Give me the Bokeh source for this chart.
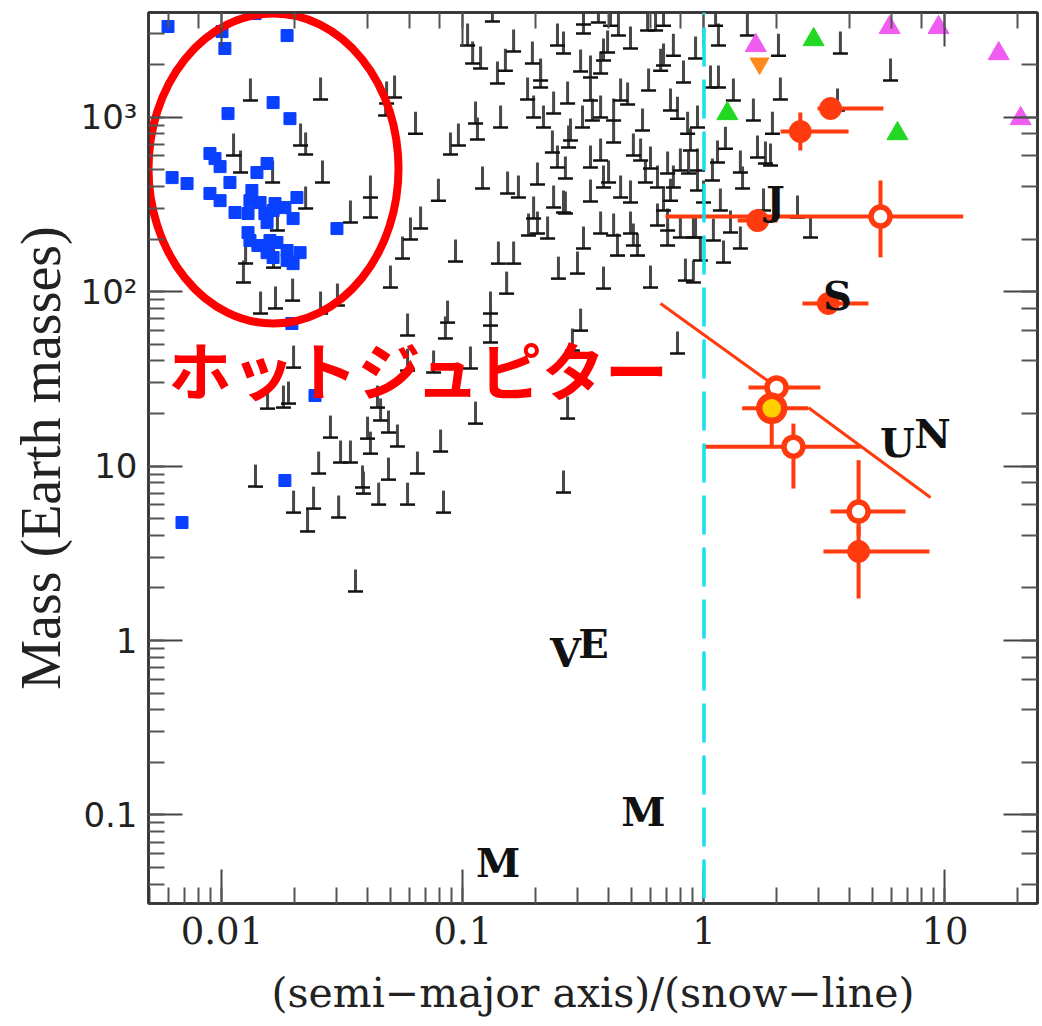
import numpy as np
from bokeh.plotting import figure
from bokeh.models import LogAxis, CustomJSTickFormatter, Span, Label, Range1d, ColumnDataSource
from bokeh.core.properties import value
from bokeh.embed import file_html
from bokeh.resources import INLINE

# ---------------- data ----------------
# radial-velocity planets (minimum masses): log10(a / snow line), log10(M sin i / M_earth)
rv_log_a = [-1.882, -1.591, -1.317, -1.284, -1.197, -1.321, -1.952, -1.923, -1.674, -1.653,
            -1.583, -1.790, -1.384, -1.384, -1.467, -1.653, -1.770, -1.786, -1.911, -1.902,
            -1.176, -1.218, -1.251, -1.301, -1.102, -1.707, -1.778, -1.840, -1.591, -1.521,
            -1.703, -1.811, -1.745, -1.724, -1.230, -1.064, -1.073, -1.122, -1.230, -1.355,
            -1.342, -1.309, -1.272, -1.550, -1.508, -1.467, -1.396, -1.384, -1.599, -1.417,
            -1.413, -1.309, -1.189, -1.093, -1.861, -1.703, -1.620, -1.645, -1.516, -1.350,
            -1.230, -1.081, -1.446, -1.031, -0.853, -0.790, -0.819, -0.604, -0.525, -0.417,
            -0.222, -0.077, -0.044, -0.886, -0.886, -0.512, -0.546, -0.110, -0.969, -0.566,
            -0.948, -0.583, -0.878, -0.981, -0.927, -0.960, -0.790, -0.824, -0.857, -0.608,
            -0.583, -0.500, -0.500, -0.438, -0.388, -0.355, -0.305, -0.234, -0.201, -0.168,
            -0.712, -0.678, -0.678, -0.732, -0.707, -0.666, -0.512, -0.471, -0.417, -0.400,
            -0.566, -0.629, -0.554, -0.562, -0.471, -0.463, -0.429, -0.504, -0.346, -0.317,
            -0.255, -0.230, -0.180, -0.168, -0.127, -0.085, -0.035, -0.110, -0.068, -0.608,
            -0.575, -0.624, -0.583, -0.471, -0.429, -0.417, -0.471, -0.396, -0.346, -0.305,
            -0.293, -0.263, -0.243, -0.193, -0.151, -0.127, -0.098, -0.027, -0.002, -0.139,
            -0.193, -0.151, -0.151, -0.098, -0.035, 0.039, -0.707, -0.691, -0.649, -0.728,
            -0.429, -0.375, -0.359, -0.305, -0.293, -0.276, -0.500, -0.919, -0.815, -0.770,
            -0.691, -1.052, -1.019, -0.948, -0.940, -0.844, -0.886, 0.180, 0.309, 0.566,
            0.774, 0.060, 0.048, 0.027, 0.060, 0.122, 0.205, 0.317, 0.284, 0.554,
            0.056, 0.089, 0.151, 0.222, 0.255, 0.276, 0.160, -0.027, -0.044, 0.110,
            0.151, 0.081, 0.247, 0.388, 0.442, -0.624, -0.375, -0.222, -0.064, -0.168,
            -0.027, -0.139, -0.375, -0.575, -0.429, -0.056, -0.015, 0.035, 0.068]
rv_log_m = [3.095, 3.100, 3.077, 3.112, 2.905, 3.009, 2.779, 2.682, 2.837, 2.785,
            2.625, 2.625, 2.539, 2.424, 2.395, 2.476, 2.350, 2.137, 2.052, 2.160,
            2.361, 2.298, 2.189, 2.023, 2.521, 1.948, 1.903, 1.874, 1.874, 1.920,
            1.564, 1.329, 1.335, 1.358, 1.748, 1.822, 1.731, 1.536, 1.547, 1.335,
            1.261, 1.192, 1.112, 1.163, 1.020, 1.020, 1.157, 1.071, 0.957, 0.877,
            0.842, 0.922, 0.957, 1.083, 0.882, 0.733, 0.756, 0.625, 0.705, 0.779,
            0.779, 0.733, 0.281, 2.172, 2.160, 2.160, 1.988, 2.074, 2.103, 2.017,
            2.023, 2.063, 2.052, 1.805, 1.708, 1.776, 1.662, 1.645, 1.559, 1.272,
            1.243, 0.848, 3.547, 3.410, 3.278, 3.307, 3.375, 3.266, 3.192, 3.410,
            3.364, 3.530, 3.479, 3.542, 3.524, 3.467, 3.393, 3.496, 3.496, 3.524,
            3.307, 3.209, 3.169, 3.100, 2.997, 2.940, 3.261, 3.226, 3.324, 3.370,
            3.077, 2.797, 2.865, 2.825, 3.095, 2.980, 2.997, 2.940, 3.095, 3.072,
            2.923, 3.152, 3.266, 3.295, 3.352, 3.198, 3.335, 2.991, 2.905, 2.711,
            2.648, 2.481, 2.453, 2.711, 2.751, 2.596, 2.516, 2.625, 2.539, 2.510,
            2.779, 2.751, 2.625, 2.596, 2.676, 2.596, 2.693, 2.693, 2.510, 2.521,
            2.378, 2.350, 2.264, 2.309, 2.309, 2.292, 2.418, 2.332, 2.304, 2.321,
            2.332, 2.321, 2.206, 2.332, 2.264, 2.206, 2.246, 2.590, 2.562, 2.539,
            2.613, 2.785, 2.837, 2.963, 2.871, 2.940, 1.874, 3.467, 3.352, 3.364,
            3.209, 3.410, 3.524, 3.169, 3.169, 3.095, 2.980, 3.100, 2.905, 3.037,
            2.739, 2.819, 2.682, 2.768, 2.734, 2.722, 2.590, 2.579, 2.309, 2.338,
            2.246, 2.166, 2.464, 2.424, 2.309, 3.020, 2.854, 2.705, 2.676, 2.464,
            2.940, 3.037, 2.980, 2.447, 3.249, 2.808, 2.178, 2.636, 2.464]

# transiting planets (blue squares)
tr_log_a = [-2.224, -2.000, -1.988, -1.863, -1.730, -1.975, -1.788, -1.718, -2.050, -2.029,
            -2.008, -1.813, -1.855, -2.207, -2.145, -1.967, -2.050, -2.008, -1.689, -1.876,
            -1.884, -1.842, -1.780, -1.739, -1.946, -1.892, -1.822, -1.788, -1.705, -1.813,
            -1.523, -1.892, -1.884, -1.851, -1.801, -1.772, -1.813, -1.730, -1.676, -1.730,
            -1.705, -1.788, -1.710, -1.614, -1.739, -2.166]
tr_log_m = [3.519, 3.490, 3.393, 3.593, 3.467, 3.020, 3.083, 2.991, 2.791, 2.762,
            2.716, 2.734, 2.682, 2.653, 2.619, 2.625, 2.562, 2.521, 2.539, 2.579,
            2.521, 2.510, 2.504, 2.481, 2.453, 2.447, 2.447, 2.464, 2.418, 2.395,
            2.361, 2.338, 2.292, 2.264, 2.292, 2.281, 2.223, 2.235, 2.223, 2.178,
            2.160, 2.195, 1.817, 1.404, 0.917, 0.676]

# microlensing planets with error bars
ml_a = [3.35, 2.51, 1.67, 5.40, 3.28, 2.00, 1.91, 2.35, 4.38, 4.38]
ml_m = [1119, 826, 255, 269, 85.4, 28.2, 21.4, 12.9, 5.48, 3.24]
ml_a_lo = [2.96, 2.08, 1.38, 0.692, 2.56, 1.53, 1.44, 1.00, 3.35, 3.13]
ml_a_hi = [5.55, 3.98, 2.02, 11.9, 4.81, 3.04, 2.71, 4.46, 6.86, 8.62]
ml_m_lo = [1119, 643, 255, 157, 85.4, 28.2, 12.8, 7.43, 4.00, 1.74]
ml_m_hi = [1119, 1061, 255, 433, 85.4, 28.2, 21.4, 17.5, 10.8, 4.56]
ml_kind = ["filled", "filled", "filled", "open", "filled", "open", "yellow", "open", "open", "filled"]

# direct imaging / other (triangles)
mag_a = [1.64, 5.89, 9.40, 16.7, 20.6]
mag_m = [2570, 3260, 3260, 2310, 980]
grn_a = [2.85, 1.25, 6.35]
grn_m = [2780, 1047, 804]
org_a = [1.70]
org_m = [2027]

# red diagonal line (two pieces)
diag_a0 = [0.660, 2.714]
diag_m0 = [85.4, 21.6]
diag_a1 = [1.834, 8.71]
diag_m1 = [30.9, 6.6]

# solar-system planets
sol_lab = ["J", "S", "U", "N", "V", "E", "M", "M"]
sol_a = [1.98, 3.58, 6.35, 8.87, 0.266, 0.348, 0.561, 0.140]
sol_m = [332, 94.8, 13.6, 15.3, 0.853, 0.962, 0.105, 0.0533]

snow_line = 1.0
hj_center_a = [0.01636]
hj_center_m = [507]
hj_text = "ホットジュピター"
hj_text_a = 0.00600
hj_text_m = 36.6

# ---------------- figure ----------------
RED = "#ff3a0e"
p = figure(width=1042, height=1026, x_axis_type="log", y_axis_type="log",
           x_range=Range1d(0.004955, 24.2), y_range=Range1d(0.0311, 3974),
           output_backend="svg", toolbar_location=None,
           min_border_left=148, min_border_right=5, min_border_top=12, min_border_bottom=123)
p.xgrid.visible = False
p.ygrid.visible = False
p.outline_line_color = "#333333"
p.outline_line_width = 2.5
p.background_fill_color = "white"

xa = p.below[0]
ya = p.left[0]

top = LogAxis()
right = LogAxis()
p.add_layout(top, "above")
p.add_layout(right, "right")

for ax in [xa, ya, top, right]:
    ax.major_tick_in = 34
    ax.major_tick_out = 0
    ax.minor_tick_in = 16
    ax.minor_tick_out = 0
    ax.major_tick_line_color = "#444444"
    ax.minor_tick_line_color = "#555555"
    ax.major_tick_line_width = 2
    ax.minor_tick_line_width = 2
    ax.axis_line_color = "#333333"
    ax.axis_line_width = 2.5

for ax in [top, right]:
    ax.formatter = CustomJSTickFormatter(code="return '';")
    ax.major_label_text_font_size = "0px"
    ax.major_label_standoff = 0

fmt_code = """
if (Math.abs(tick/1000 - 1) < 1e-6) return "10\u00b3";
if (Math.abs(tick/100 - 1) < 1e-6) return "10\u00b2";
return String(parseFloat(tick.toPrecision(6)));
"""
xa.formatter = CustomJSTickFormatter(code="return String(parseFloat(tick.toPrecision(6)));")
xa.major_label_text_font = "DejaVu Serif"
xa.major_label_text_font_size = "37px"
xa.major_label_text_color = "#222222"
xa.major_label_standoff = 13
xa.axis_label = "(semi\u2212major axis)/(snow\u2212line)"
xa.axis_label_text_font = "DejaVu Serif"
xa.axis_label_text_font_size = "41px"
xa.axis_label_text_font_style = "normal"
xa.axis_label_text_color = "#222222"
xa.axis_label_standoff = 22

ya.formatter = CustomJSTickFormatter(code=fmt_code)
ya.major_label_text_font = "DejaVu Sans"
ya.major_label_text_font_size = "34px"
ya.major_label_text_color = "#222222"
ya.major_label_standoff = 11
ya.axis_label = "Mass (Earth masses)"
ya.axis_label_text_font = "Liberation Serif"
ya.axis_label_text_font_size = "56px"
ya.axis_label_text_font_style = "normal"
ya.axis_label_text_color = "#222222"
ya.axis_label_standoff = 6

# snow line
p.add_layout(Span(location=snow_line, dimension="height", line_color="#12e2f0",
                  line_width=3.5, line_dash="39 13", line_dash_offset=37))

# RV planets: vertical stick + base bar
rv = ColumnDataSource(dict(a=10 ** np.array(rv_log_a), m=10 ** np.array(rv_log_m)))
p.ray(x="a", y="m", length=22, angle=np.pi / 2, length_units="screen",
      line_color="#484848", line_width=3, source=rv)
p.scatter(x="a", y="m", marker="dash", size=15, line_color="#111111", line_width=2.5, source=rv)

# transiting planets
tr = ColumnDataSource(dict(a=10 ** np.array(tr_log_a), m=10 ** np.array(tr_log_m)))
p.scatter(x="a", y="m", marker="square", size=12, fill_color="#0a40ff", line_color="#0a40ff",
          source=tr)

# triangles
p.scatter(mag_a, mag_m, marker="triangle", size=21, fill_color="#f05cf0", line_color="#f05cf0")
p.scatter(grn_a, grn_m, marker="triangle", size=21, fill_color="#22d822", line_color="#22d822")
p.scatter(org_a, org_m, marker="inverted_triangle", size=19, fill_color="#ff8a1c", line_color="#ff8a1c")

# diagonal line
p.segment(diag_a0, diag_m0, diag_a1, diag_m1, line_color=RED, line_width=3)

# microlensing error bars + points
p.segment(ml_a_lo, ml_m, ml_a_hi, ml_m, line_color=RED, line_width=4)
p.segment(ml_a, ml_m_lo, ml_a, ml_m_hi, line_color=RED, line_width=4)
fa = [a for a, k in zip(ml_a, ml_kind) if k == "filled"]
fm = [m for m, k in zip(ml_m, ml_kind) if k == "filled"]
oa = [a for a, k in zip(ml_a, ml_kind) if k == "open"]
om = [m for m, k in zip(ml_m, ml_kind) if k == "open"]
ya_ = [a for a, k in zip(ml_a, ml_kind) if k == "yellow"]
ym_ = [m for m, k in zip(ml_m, ml_kind) if k == "yellow"]
p.scatter(fa, fm, marker="circle", size=22, fill_color=RED, line_color=RED)
p.scatter(oa, om, marker="circle", size=19, fill_color="white", line_color=RED, line_width=5.5)
p.scatter(ya_, ym_, marker="circle", size=25, fill_color="#ffd000", line_color=RED, line_width=6.5)

# solar system labels
p.text(sol_a, sol_m, text=sol_lab, text_font=value("DejaVu Serif"), text_font_style="bold",
       text_font_size="40px", text_color="#111111", text_align="center", text_baseline="middle")

# hot-jupiter annotation
p.ellipse(hj_center_a, hj_center_m, width=250, height=310, width_units="screen",
          height_units="screen", fill_color=None, line_color="#ff0000", line_width=8)
p.add_layout(Label(x=hj_text_a, y=hj_text_m, text=hj_text, text_font="Noto Sans CJK JP",
                   text_font_style="bold", text_font_size="63px", text_color="#ff0000",
                   text_align="left", text_baseline="middle"))

open("out.html", "w").write(file_html(p, INLINE))
